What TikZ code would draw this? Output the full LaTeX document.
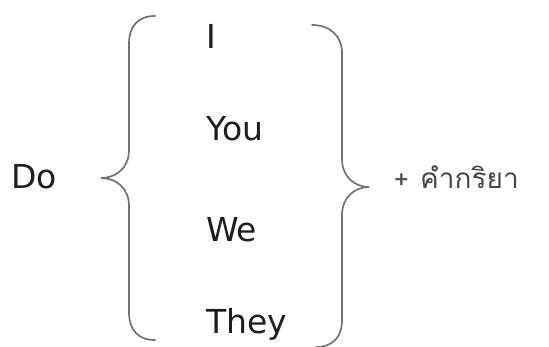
\documentclass[tikz,border=0pt]{standalone}
\usepackage{fontspec}
\setmainfont{DejaVu Sans}
\newfontfamily\thaifont[Script=Thai]{Loma}
\usetikzlibrary{positioning}
\definecolor{wordtext}{RGB}{30,30,30}
\definecolor{verbtext}{RGB}{70,70,70}
\definecolor{bracegray}{RGB}{115,115,115}

\begin{document}
\begin{tikzpicture}[
    x=1pt, y=-1pt,
    word/.style={anchor=base west, inner sep=0pt, text=wordtext,
        font=\fontsize{33}{39}\selectfont},
    verb/.style={anchor=base west, inner sep=0pt, text=verbtext,
        font=\thaifont\fontsize{28}{32}\selectfont},
    curly/.style={draw=bracegray, line width=1.7pt, line cap=round}
]
\useasboundingbox (0,0) rectangle (549,346);

% Subject
\node[word] (do) at (11,188) {Do};

% Pronouns
\node[word] (i) at (206,48) {I};
\node[word] (you) at (206,140) {You};
\node[word] (we) at (206,241) {We};
\node[word] (they) at (206,333) {They};

% Left brace
\coordinate (ltop) at (155,16);
\coordinate (ltip) at (101,178);
\coordinate (lbot) at (155,340);
\draw[curly] (ltop) .. controls (138,16) and (129,26) .. (129,44) -- (129,150)
    .. controls (129,168) and (116,178) .. (ltip)
    .. controls (116,178) and (129,188) .. (129,206) -- (129,312)
    .. controls (129,330) and (138,340) .. (lbot);

% Right brace
\coordinate (rtop) at (312,25);
\coordinate (rtip) at (369,187);
\coordinate (rbot) at (316,347);
\draw[curly] (rtop) .. controls (330,25) and (342,36) .. (342,53) -- (342,159)
    .. controls (342,177) and (355,187) .. (rtip)
    .. controls (355,187) and (342,197) .. (342,215) -- (342,320)
    .. controls (342,338) and (332,347) .. (rbot);

% Verb
\node[verb, font=\thaifont\fontsize{25}{29}\selectfont] (plus) at (394,188) {+};
\node[verb, right=11pt of plus.base east, anchor=base west] (kam) {คำกริยา};

\end{tikzpicture}
\end{document}
